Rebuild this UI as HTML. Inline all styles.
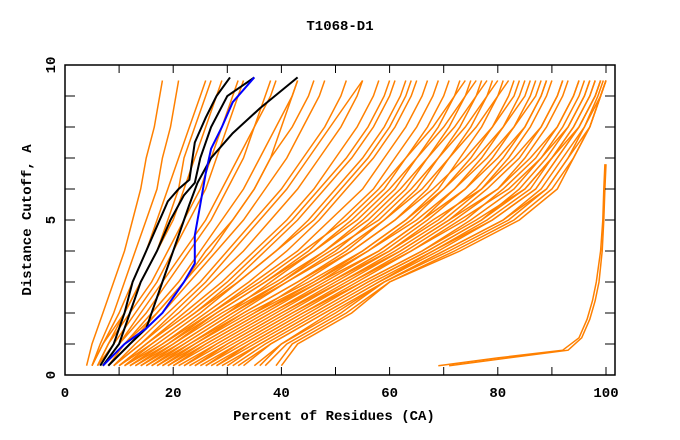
<!DOCTYPE html>
<html><head><meta charset="utf-8"><style>
html,body{margin:0;padding:0;background:#fff;}
svg{display:block;font-family:"Liberation Mono",monospace;font-weight:bold;}
</style></head><body>
<svg id="chart" width="680" height="440" viewBox="0 0 680 440" xmlns="http://www.w3.org/2000/svg">
<text x="340" y="30" text-anchor="middle" font-size="14">T1068-D1</text>
<text x="0" y="0" transform="translate(31,220) rotate(-90)" text-anchor="middle" font-size="14">Distance Cutoff, A</text>
<text x="334" y="420" text-anchor="middle" font-size="14">Percent of Residues (CA)</text>
<g id="series"></g>
<g id="axes"></g>
</svg>
<script>
const levels=[0.3,1,2,3,4,5,6,7,8,9,9.5];
const orangeCurves=[
[4,5,7,9,11,12.5,14,15,16.5,17.5,18],
[5,6.5,9,11,13,15,17,18,19.5,20.5,21],
[5,7,10,12.5,15,17,19,21,23,25,26],
[6,8,11,14,17,20,22,24,26,28,29],
[6,9,13,17,20,23,26,28,30,32,33],
[7,10,15,19,23,27,30,33,35,37,38],
[8,12,17,22,27,31,35,38,40,42,43],
[5,7,11,14,17,19,21,22,24,26,27],
[6,8,12,16,19,22,25,27,29,31,32],
[7,10,14,18,22,26,29,32,35,38,39],
[7,11,16,21,25,29,33,36,39,42,43],
[8,11,17,22,26,31,35,38,42,45,46],
[8,12,18,23,28,33,37,41,44,47,48],
[9,13,19,25,30,35,40,44,48,51,52],
[9,14,21,27,33,38,43,47,51,54,55],
[10,15,22,29,35,41,46,50,54,57,58],
[10,16,24,31,37,43,48,53,57,60,61],
[11,17,25,32,39,45,50,55,59,62,63],
[11,18,26,34,41,47,52,57,61,64,65],
[12,19,27,35,43,49,55,59,63,66,67],
[13,20,28,37,45,51,57,61,65,68,69],
[14,21,30,38,46,53,59,63,67,70,71],
[15,22,31,40,48,55,61,65,69,72,73],
[16,23,32,41,50,57,63,67,71,74,75],
[17,24,33,43,52,59,65,69,73,76,77],
[18,25,35,44,53,61,67,71,75,78,79],
[19,26,36,46,55,63,69,73,77,80,81],
[20,27,37,47,56,64,70,75,79,82,83],
[21,28,38,48,58,66,72,77,81,84,85],
[22,29,39,49,59,67,74,79,83,86,87],
[23,30,40,50,60,69,76,81,85,88,89],
[24,31,41,51,61,70,77,82,86,89,90],
[25,32,42,52,62,71,78,84,88,91,92],
[26,33,43,53,63,72,80,85,89,92,93],
[27,34,44,54,64,74,81,87,91,94,95],
[28,35,45,55,66,75,83,88,92,95,96],
[30,36,46,56,67,77,84,89,93,96,97],
[31,37,47,57,68,78,86,90,94,97,98],
[33,38,48,58,69,79,87,91,95,98,99],
[35,40,49,59,70,81,88,92,96,98.5,99.5],
[37,41,51,59,71,82,89,93,97,99,100],
[39,42,52,60,72,83,90,94,97,99,100],
[40,43,53,60,73,84,91,94,97,99,100],
[12,18,27,36,44,52,58,63,68,72,74],
[14,20,29,39,48,56,62,67,72,76,78],
[16,22,31,41,51,59,66,71,76,80,82],
[18,24,34,45,55,63,70,76,81,85,86],
[20,26,36,47,58,66,74,80,85,88,89],
[22,28,38,49,60,68,77,83,88,91,92],
[24,30,40,51,62,71,80,86,91,94,95],
[26,32,42,53,64,73,82,88,93,96,97],
[28,34,44,55,66,76,85,90,95,98,99],
[13,19,28,37,46,54,60,65,70,74,76],
[15,21,30,40,49,58,64,69,74,78,80],
[17,23,33,43,53,61,68,74,79,83,84],
[19,25,35,46,56,65,72,78,83,87,88],
[9,14,20,26,31,36,41,45,49,53,55],
[10,15,23,30,36,42,47,52,56,59,60],
[11,16,24,32,39,46,51,56,60,63,64],
[29,36,46,56,67,77,85,90,94,97,98],
[32,38,48,58,68,79,87,91,95,98,99],
[36,40,50,59,70,81,89,93,96,99,100]
];
const outlierX1=[69,80,92,95,96.5,97.5,98.2,99,99.4,99.6,99.8];
const outlierX2=[71,82,93,95.5,97,98,98.7,99.3,99.6,99.8,100];
const outlierY=[0.3,0.55,0.8,1.2,1.8,2.4,3,4,5,6,6.8];
const blackAX=[6.5,9,11,12.5,15,17,19,21,23,24,26,28,30.5];
const blackAY=[0.3,1,2,3,4,4.8,5.6,6,6.3,7.5,8.3,9,9.6];
const blackBX=[7,10,12,14,17,19.5,22,24,25,27,30,35];
const blackBY=[0.3,1,2,3,4,5,5.8,6.2,7,8,9,9.6];
const blackCX=[8,12,15,17,19,21,23,24.5,27,31,36,43];
const blackCY=[0.3,1,1.5,2.5,3.5,4.5,5.5,6.2,7,7.8,8.6,9.6];
const blueX=[7,11,15,18,22,24,24,25,26,27,29,31,35];
const blueY=[0.3,1,1.5,2,3,3.6,4.5,5.5,6.5,7.3,8,8.8,9.6];
const xTicks=[0,20,40,60,80,100];
const yTicks=[0,5,10];

const X0=65,X1=615,Y0=375,Y1=65,PXU=5.41,PYU=31;
const sx=v=>X0+v*PXU, sy=v=>Y0-v*PYU;
const NS='http://www.w3.org/2000/svg';
const g=document.getElementById('series'), ax=document.getElementById('axes');
function line(xs,ys,color,w,name){
  const p=document.createElementNS(NS,'polyline');
  p.setAttribute('points',xs.map((x,i)=>sx(x).toFixed(1)+','+sy(ys[i]).toFixed(1)).join(' '));
  p.setAttribute('fill','none');p.setAttribute('stroke',color);p.setAttribute('stroke-width',w);
  
  
  g.appendChild(p);
}
orangeCurves.forEach(c=>line(c,levels,'#ff8000',1.5,'model-curve'));
line(outlierX1,outlierY,'#ff8000',1.5,'outlier-curve');
line(outlierX2,outlierY,'#ff8000',1.5,'outlier-curve');
line(blackAX,blackAY,'#000',2,'reference-curve-a');
line(blackBX,blackBY,'#000',2,'reference-curve-b');
line(blackCX,blackCY,'#000',2,'reference-curve-c');
line(blueX,blueY,'#0000ff',2,'highlight-curve');
function el(tag,attrs){const e=document.createElementNS(NS,tag);for(const k in attrs)e.setAttribute(k,attrs[k]);ax.appendChild(e);return e;}
const frame=el('rect',{x:X0,y:Y1,width:X1-X0,height:Y0-Y1,fill:'none',stroke:'#000','stroke-width':1.5});


for(let v=0;v<=100;v+=10){
  const t1=el('line',{x1:sx(v),x2:sx(v),y1:Y0,y2:Y0-8,stroke:'#000'});
  
  
  const t2=el('line',{x1:sx(v),x2:sx(v),y1:Y1,y2:Y1+8,stroke:'#000'});
  
  
}
for(let v=0;v<=10;v+=1){
  const t1=el('line',{x1:X0,x2:X0+10,y1:sy(v),y2:sy(v),stroke:'#000'});
  
  
  const t2=el('line',{x1:X1,x2:X1-10,y1:sy(v),y2:sy(v),stroke:'#000'});
  
  
}
xTicks.forEach(v=>{
  const t=el('text',{x:sx(v),y:397,'text-anchor':'middle','font-size':14});
  t.textContent=v;
  
  
});
yTicks.forEach(v=>{
  const t=el('text',{x:0,y:0,transform:`translate(55,${sy(v)}) rotate(-90)`,'text-anchor':'middle','font-size':14});
  t.textContent=v;
  
  
});
</script>
</body></html>
